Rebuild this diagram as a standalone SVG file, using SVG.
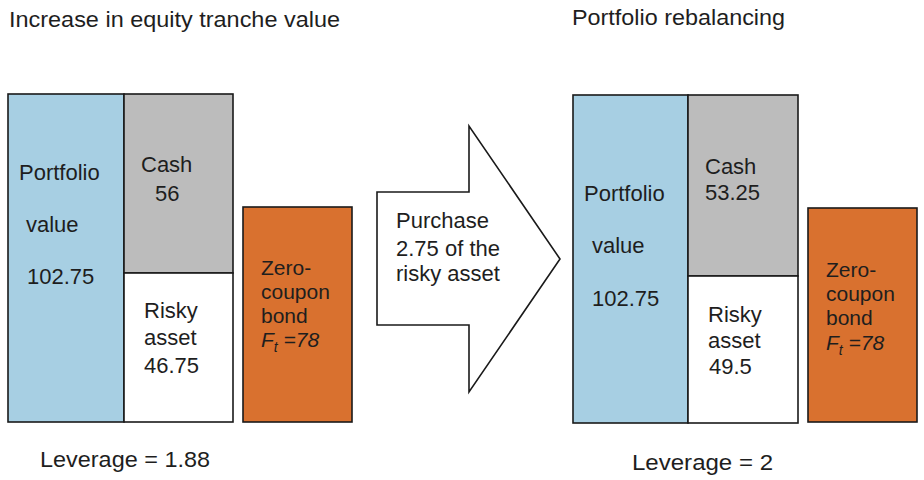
<svg xmlns="http://www.w3.org/2000/svg" width="924" height="480" viewBox="0 0 924 480">
<style>
text{font-family:"Liberation Sans",Arial,sans-serif;fill:#1e1e1e}
.t{font-size:22px}
.b{font-size:21px}
.h{font-size:22px}
.box{stroke:#1a1a1a;stroke-width:1.6}
.blue{fill:#a7cfe3}
.gray{fill:#bcbcbc}
.white{fill:#ffffff}
.orange{fill:#d9712f}
.it{font-style:italic}
</style>
<rect width="924" height="480" fill="#ffffff"/>
<text class="h" x="9" y="27" textLength="331" lengthAdjust="spacingAndGlyphs">Increase in equity tranche value</text>
<text class="h" x="572" y="25" textLength="213" lengthAdjust="spacingAndGlyphs">Portfolio rebalancing</text>

<g id="left-portfolio">
<rect class="box blue" x="8" y="94" width="116" height="328"/>
<text class="t" x="19" y="180">Portfolio</text>
<text class="t" x="26" y="232">value</text>
<text class="t" x="27" y="284">102.75</text>
</g>
<g id="left-cash">
<rect class="box gray" x="124" y="94" width="109" height="179"/>
<text class="t" x="141" y="172">Cash</text>
<text class="t" x="155" y="201">56</text>
</g>
<g id="left-risky">
<rect class="box white" x="124" y="273" width="109" height="149"/>
<text class="t" x="144" y="318">Risky</text>
<text class="t" x="144" y="345">asset</text>
<text class="t" x="144" y="373">46.75</text>
</g>
<g id="left-bond">
<rect class="box orange" x="243" y="207" width="109" height="215"/>
<text class="b" x="261" y="275">Zero-</text>
<text class="b" x="261" y="299">coupon</text>
<text class="b" x="261" y="323">bond</text>
<text class="b it" x="261" y="347">F<tspan font-size="14" dy="5">t</tspan><tspan dy="-5"> =78</tspan></text>
</g>

<g id="arrow">
<polygon class="box white" points="377,192 469,192 469,126 560,259 469,392 469,325 377,325"/>
<text class="t" x="396" y="228">Purchase</text>
<text class="t" x="396" y="256">2.75 of the</text>
<text class="t" x="396" y="281">risky asset</text>
</g>

<g id="right-portfolio">
<rect class="box blue" x="573" y="95" width="115" height="328"/>
<text class="t" x="584" y="201">Portfolio</text>
<text class="t" x="592" y="253">value</text>
<text class="t" x="592" y="306">102.75</text>
</g>
<g id="right-cash">
<rect class="box gray" x="688" y="95" width="110" height="181"/>
<text class="t" x="705" y="174">Cash</text>
<text class="t" x="705" y="200">53.25</text>
</g>
<g id="right-risky">
<rect class="box white" x="688" y="276" width="110" height="147"/>
<text class="t" x="708" y="322">Risky</text>
<text class="t" x="708" y="348">asset</text>
<text class="t" x="709" y="374">49.5</text>
</g>
<g id="right-bond">
<rect class="box orange" x="808" y="208" width="109" height="214"/>
<text class="b" x="826" y="277">Zero-</text>
<text class="b" x="826" y="301">coupon</text>
<text class="b" x="826" y="325">bond</text>
<text class="b it" x="826" y="350">F<tspan font-size="14" dy="5">t</tspan><tspan dy="-5"> =78</tspan></text>
</g>

<text class="h" x="40" y="467" textLength="170" lengthAdjust="spacingAndGlyphs">Leverage = 1.88</text>
<text class="h" x="632" y="470" textLength="141" lengthAdjust="spacingAndGlyphs">Leverage = 2</text>
</svg>
